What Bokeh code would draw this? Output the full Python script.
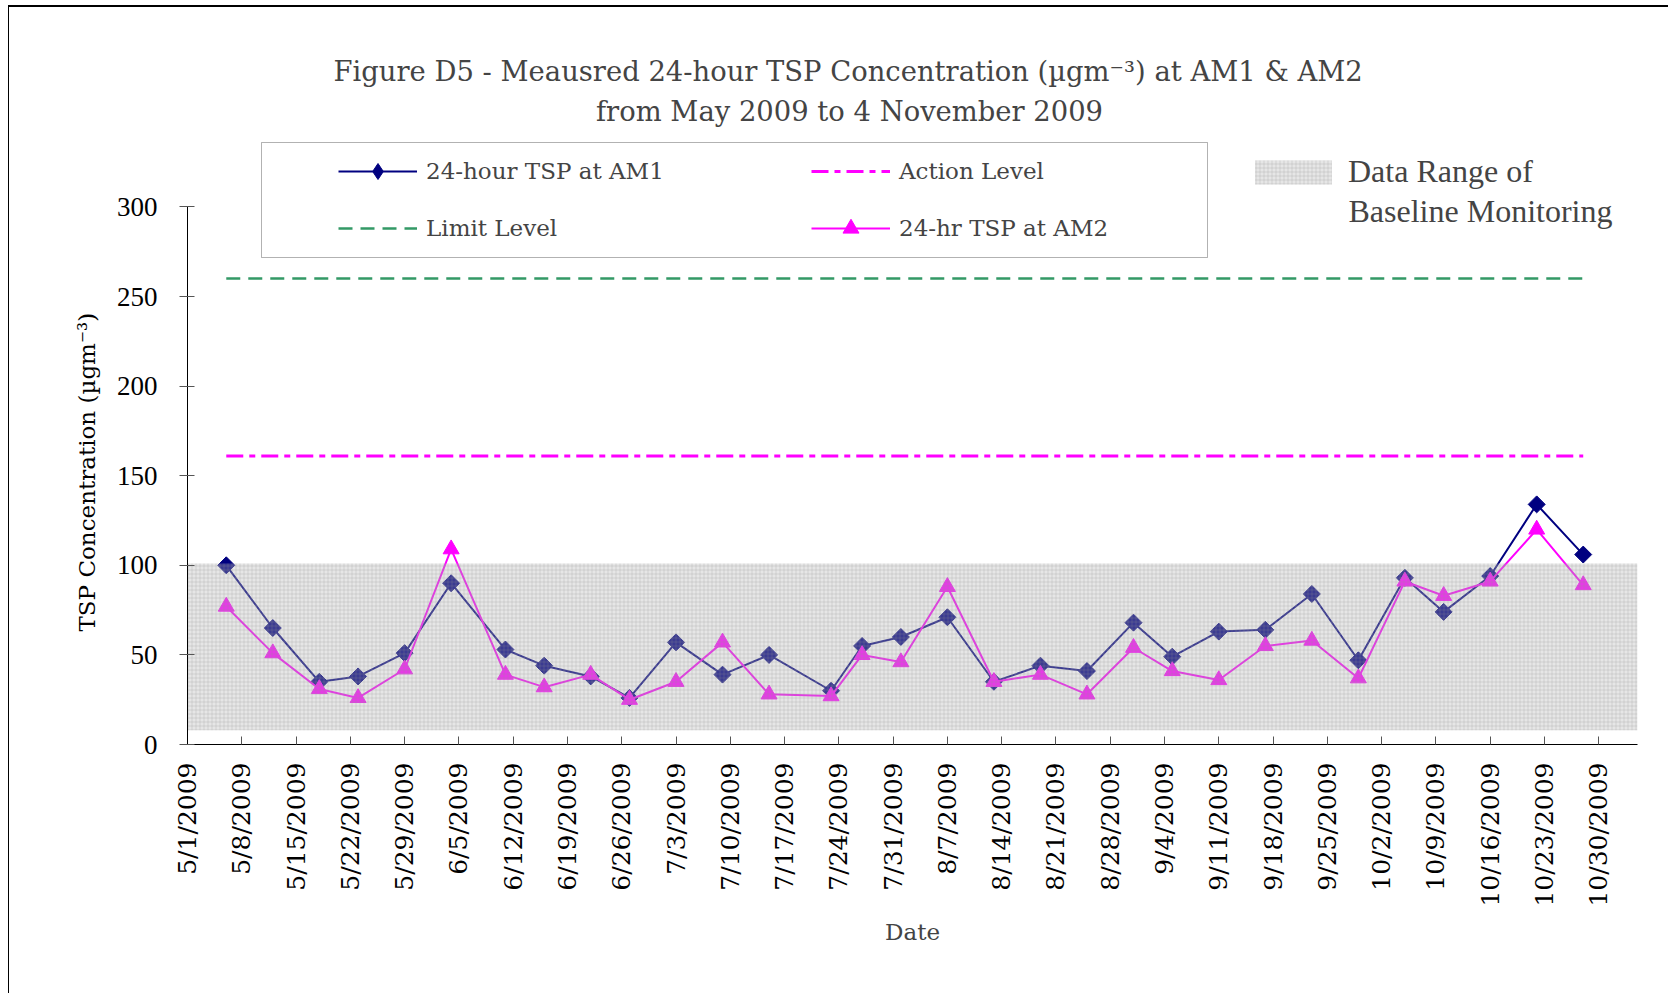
import numpy as np
import pandas as pd
from bokeh.plotting import figure
from bokeh.models import (Range1d, FixedTicker, Legend, LegendItem, Label,
                          BoxAnnotation, Title)
from bokeh.embed import file_html
from bokeh.resources import INLINE

# ---------------- data ----------------
sample_dates = ["2009-05-06", "2009-05-12", "2009-05-18", "2009-05-23", "2009-05-29",
                "2009-06-04", "2009-06-11", "2009-06-16", "2009-06-22", "2009-06-27",
                "2009-07-03", "2009-07-09", "2009-07-15", "2009-07-23", "2009-07-27",
                "2009-08-01", "2009-08-07", "2009-08-13", "2009-08-19", "2009-08-25",
                "2009-08-31", "2009-09-05", "2009-09-11", "2009-09-17", "2009-09-23",
                "2009-09-29", "2009-10-05", "2009-10-10", "2009-10-16", "2009-10-22",
                "2009-10-28"]
am1_tsp = [100, 65, 35, 38, 51, 90, 53, 44, 38, 26,
           57, 39, 50, 30, 55, 60, 71, 35, 44, 41,
           68, 49, 63, 64, 84, 47, 93, 74, 94, 134, 106]
am2_tsp = [77, 51, 31, 26, 42, 109, 39, 32, 39, 25,
           35, 57, 28, 27, 50, 46, 88, 35, 39, 28,
           54, 41, 36, 55, 58, 37, 91, 83, 91, 120, 89]
action_level = 161
limit_level = 260
baseline_range = [8, 101]

x_limits = ["2009-05-01", "2009-11-04"]
x_tick_dates = ["2009-05-01", "2009-05-08", "2009-05-15", "2009-05-22", "2009-05-29",
                "2009-06-05", "2009-06-12", "2009-06-19", "2009-06-26", "2009-07-03",
                "2009-07-10", "2009-07-17", "2009-07-24", "2009-07-31", "2009-08-07",
                "2009-08-14", "2009-08-21", "2009-08-28", "2009-09-04", "2009-09-11",
                "2009-09-18", "2009-09-25", "2009-10-02", "2009-10-09", "2009-10-16",
                "2009-10-23", "2009-10-30"]
x_tick_labels = ["5/1/2009", "5/8/2009", "5/15/2009", "5/22/2009", "5/29/2009",
                 "6/5/2009", "6/12/2009", "6/19/2009", "6/26/2009", "7/3/2009",
                 "7/10/2009", "7/17/2009", "7/24/2009", "7/31/2009", "8/7/2009",
                 "8/14/2009", "8/21/2009", "8/28/2009", "9/4/2009", "9/11/2009",
                 "9/18/2009", "9/25/2009", "10/2/2009", "10/9/2009", "10/16/2009",
                 "10/23/2009", "10/30/2009"]
y_ticks = [0, 50, 100, 150, 200, 250, 300]
y_axis_bounds = (0, 300)
y_view = (0, 411.3)   # extra headroom above 300 holds the title and legends

# ---------------- figure ----------------
dates = pd.to_datetime(sample_dates)
xs, xe = pd.to_datetime(x_limits)
tick_ms = [pd.Timestamp(d).timestamp() * 1000.0 for d in x_tick_dates]

SERIF = "DejaVu Serif"
TIMES = "Liberation Serif"

p = figure(x_axis_type="datetime", x_range=Range1d(xs, xe),
           y_range=Range1d(*y_view),
           frame_width=1450, frame_height=737,
           min_border_left=178, min_border_right=31, min_border_top=0,
           min_border_bottom=249, output_backend="svg", toolbar_location=None)
p.title.visible = False
p.xgrid.visible = False
p.ygrid.visible = False
p.outline_line_color = None
p.styles = {"margin-top": "5px", "margin-left": "8px",
            "border-top": "2px solid #000", "border-left": "1px solid #000"}

l1 = p.line(dates, am1_tsp, line_color="#000080", line_width=2)
# diamond key marker (sits hidden under the rotated-square markers)
k1 = p.scatter(dates, am1_tsp, marker="diamond", size=15,
               fill_color="#000080", line_color="#000080")
s1 = p.scatter(dates, am1_tsp, marker="square", angle=np.pi / 4, size=12,
               fill_color="#000080", line_color="#000080")
l2 = p.line(dates, am2_tsp, line_color="#ff00ff", line_width=2)
s2 = p.scatter(dates, am2_tsp, marker="triangle", size=16,
               fill_color="#ff00ff", line_color="#ff00ff")
lim = p.line([dates[0], dates[-1]], [limit_level, limit_level], line_color="#339966",
             line_width=2.5, line_dash="14 8")
act = p.line([dates[0], dates[-1]], [action_level, action_level], line_color="#ff00ff",
             line_width=3, line_dash="17 6 6 6")
base = p.quad(left=[xs], right=[xe], bottom=[baseline_range[0]], top=[baseline_range[1]],
              fill_color="#b4b4b4", fill_alpha=0.33, line_color=None,
              hatch_pattern="+", hatch_color="#8c8c8c", hatch_alpha=0.25,
              hatch_scale=4, hatch_weight=1)

# axes
xa = p.xaxis[0]
xa.ticker = FixedTicker(ticks=tick_ms)
xa.major_label_overrides = {t: s for t, s in zip(tick_ms, x_tick_labels)}
xa.major_label_orientation = np.pi / 2
xa.major_tick_in = 8
xa.major_tick_out = 0
xa.minor_tick_line_color = None
xa.major_label_text_font = SERIF
xa.major_label_text_font_size = "25px"
xa.major_label_text_color = "black"
xa.major_label_standoff = 18
xa.axis_label = "Date"
xa.axis_label_text_font = SERIF
xa.axis_label_text_font_size = "23px"
xa.axis_label_text_font_style = "normal"
xa.axis_label_standoff = 9
xa.axis_line_color = "black"
xa.major_tick_line_color = "#555555"

ya = p.yaxis[0]
ya.bounds = y_axis_bounds
ya.ticker = FixedTicker(ticks=y_ticks)
ya.major_tick_in = 7
ya.major_tick_out = 8
ya.minor_tick_line_color = None
ya.major_label_text_font = TIMES
ya.major_label_text_font_size = "27px"
ya.major_label_text_color = "black"
ya.major_label_standoff = 22
ya.axis_line_color = "black"
ya.major_tick_line_color = "#555555"

# y axis title, placed along the 0-300 part of the axis
p.add_layout(Title(text="TSP Concentration (µgm⁻³)", align="left", offset=113,
                   text_font=SERIF, text_font_size="23px", text_font_style="normal",
                   text_color="black", standoff=28), "left")

# main legend
main_legend = Legend(
    items=[LegendItem(label="24-hour TSP at AM1", renderers=[l1, k1]),
           LegendItem(label="Action Level", renderers=[act]),
           LegendItem(label="Limit Level", renderers=[lim]),
           LegendItem(label="24-hr TSP at AM2", renderers=[l2, s2])],
    location=(151, 496), orientation="horizontal", ncols=2,
    padding=0, margin=0, spacing=17, glyph_width=79, glyph_height=40,
    label_width=368, label_height=40, label_standoff=9,
    border_line_alpha=0, background_fill_alpha=0,
    label_text_font=SERIF, label_text_font_size="23px")
p.add_layout(main_legend)

p.add_layout(BoxAnnotation(left=74, right=1020, top=602, bottom=487,
                           left_units="screen", right_units="screen",
                           top_units="screen", bottom_units="screen",
                           fill_alpha=0, line_color="black", line_width=1))

base_legend = Legend(
    items=[LegendItem(label="Data Range of", renderers=[base])],
    location=(1058, 554), padding=0, margin=0, glyph_width=96, glyph_height=30,
    label_height=30, label_standoff=7, border_line_alpha=0,
    background_fill_alpha=0, label_text_font=TIMES, label_text_font_size="32px")
p.add_layout(base_legend)

p.add_layout(Label(x=1161, y=534, x_units="screen", y_units="screen",
                   text="Baseline Monitoring", text_font=TIMES,
                   text_font_size="32px", text_baseline="middle"))

p.add_layout(Label(x=665, y=673, x_units="screen", y_units="screen",
                   text="Figure D5 - Meausred 24-hour TSP Concentration (µgm⁻³)  at AM1 & AM2",
                   text_font=SERIF, text_font_size="27.4px",
                   text_align="center", text_baseline="middle"))
p.add_layout(Label(x=662, y=633, x_units="screen", y_units="screen",
                   text="from May 2009 to 4 November 2009",
                   text_font=SERIF, text_font_size="27.4px",
                   text_align="center", text_baseline="middle"))

open("out.html", "w").write(file_html(p, INLINE))
